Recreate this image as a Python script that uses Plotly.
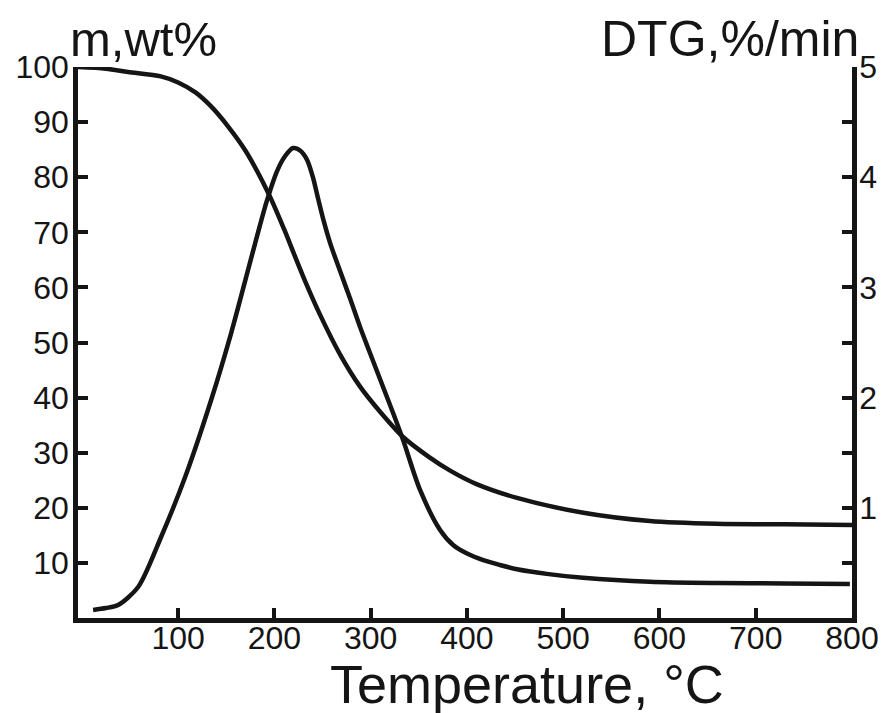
import plotly.graph_objects as go

# TG curve: mass (wt%) vs temperature (°C)
tg_temp = [-4, 25, 48, 82, 100, 118, 134, 152, 170, 194, 210, 221, 232, 247, 268, 289, 310, 334,
           360, 383, 410, 452, 521, 590, 659, 730, 800]
tg_mass = [100, 99.7, 99.1, 98.3, 97.2, 95.4, 92.9, 89.2, 84.8, 77.0, 70.6, 65.8, 61.1, 55.2, 47.9,
           42.0, 37.4, 32.8, 29.3, 26.7, 24.3, 21.8, 19.1, 17.6, 17.1, 17.0, 16.9]

# DTG curve: %/min vs temperature (°C)
dtg_temp = [11.7, 25, 37.7, 58.5, 82.3, 107.3, 134.3, 155.1, 180, 192, 203, 211, 219.4, 227, 234,
            240, 245, 251, 258, 269, 279, 289, 299.3, 312.9, 323.3, 333.7, 351.3, 372.1, 386,
            400.1, 417, 434.4, 452, 485, 520.5, 590.1, 659.7, 730, 797.8]
dtg_rate = [0.073, 0.09, 0.118, 0.281, 0.735, 1.279, 1.978, 2.586, 3.40, 3.78, 4.06, 4.19, 4.265,
            4.24, 4.156, 4.00, 3.82, 3.61, 3.40, 3.13, 2.89, 2.64, 2.405, 2.096, 1.860, 1.615,
            1.162, 0.799, 0.66, 0.585, 0.525, 0.481, 0.442, 0.398, 0.366, 0.330, 0.318, 0.313, 0.309]

x_ticks = [100, 200, 300, 400, 500, 600, 700, 800]
y_left_ticks = [10, 20, 30, 40, 50, 60, 70, 80, 90, 100]
y_right_ticks = [0.5, 1, 1.5, 2, 2.5, 3, 3.5, 4, 4.5, 5]
y_right_labels = ["", "1", "", "2", "", "3", "", "4", "", "5"]

INK = "#151515"
FONT = "Liberation Sans, Arial, sans-serif"

fig = go.Figure()
fig.add_trace(go.Scatter(x=tg_temp, y=tg_mass, mode="lines",
                         line=dict(color=INK, width=4.5, shape="spline", smoothing=0.8),
                         cliponaxis=False, yaxis="y", showlegend=False))
fig.add_trace(go.Scatter(x=dtg_temp, y=dtg_rate, mode="lines",
                         line=dict(color=INK, width=4.5, shape="spline", smoothing=0.8),
                         cliponaxis=False, yaxis="y2", showlegend=False))

axis_common = dict(showline=True, linecolor=INK, linewidth=4.5, ticks="inside", ticklen=10,
                   tickwidth=4, tickcolor=INK, showgrid=False, zeroline=False, automargin=False,
                   tickfont=dict(family=FONT, size=32, color=INK))

# page body has an 8px margin, so the figure is sized to fill the rest of the window
fig.update_layout(
    width=878, height=705,
    margin=dict(l=70, r=34, t=59, b=95, autoexpand=False),
    paper_bgcolor="white", plot_bgcolor="white",
    xaxis=dict(range=[-4, 800], tickmode="array", tickvals=x_ticks, ticklabelstandoff=-12,
               **axis_common),
    yaxis=dict(range=[0, 100], tickmode="array", tickvals=y_left_ticks, ticklabelstandoff=-2,
               **axis_common),
    yaxis2=dict(range=[0, 5], overlaying="y", side="right", tickmode="array",
                tickvals=y_right_ticks, ticktext=y_right_labels, ticklabelstandoff=-4,
                **axis_common),
    annotations=[
        dict(text="m,wt%", xref="paper", yref="paper", x=-0.0129, y=1.0517,
             xanchor="left", yanchor="middle", showarrow=False,
             font=dict(family=FONT, size=49, color=INK)),
        dict(text="DTG,%/min", xref="paper", yref="paper", x=1.0116, y=1.0517,
             xanchor="right", yanchor="middle", showarrow=False,
             font=dict(family=FONT, size=50, color=INK)),
        dict(text="Temperature, °C", xref="paper", yref="paper", x=0.5795, y=-0.1198,
             xanchor="center", yanchor="middle", showarrow=False,
             font=dict(family=FONT, size=54, color=INK)),
    ],
)

fig.write_html("out.html")
